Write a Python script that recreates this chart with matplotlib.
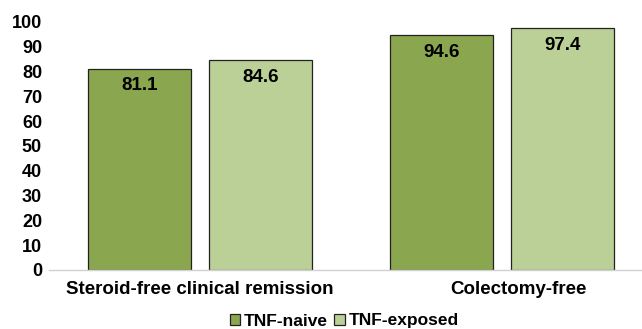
import numpy as np
import matplotlib
matplotlib.use("Agg")
import matplotlib.pyplot as plt
from matplotlib.transforms import ScaledTranslation

plt.rcParams['font.family'] = ['Liberation Sans', 'DejaVu Sans']
plt.rcParams['font.weight'] = 'bold'

categories = ["Steroid-free clinical remission", "Colectomy-free"]
tnf_naive = [81.1, 94.6]
tnf_exposed = [84.6, 97.4]
series_names = ["TNF-naive", "TNF-exposed"]
yticks = list(range(0, 101, 10))

dark_green = "#8aa64e"
light_green = "#bad097"

fig = plt.figure(figsize=(6.42, 3.29), dpi=100)
ax = fig.add_axes([49/642, 1 - 270/329, 1 - 49/642, (270 - 22)/329])

x = np.arange(len(categories))
w = 0.34
b1 = ax.bar(x - 0.2, tnf_naive, w, color=dark_green, edgecolor="#222222", linewidth=0.9, label=series_names[0])
b2 = ax.bar(x + 0.2, tnf_exposed, w, color=light_green, edgecolor="#222222", linewidth=0.9, label=series_names[1])

# value labels sit just inside the top of each bar
for bars in (b1, b2):
    for rect in bars:
        h = rect.get_height()
        ax.annotate(f"{h:.1f}", (rect.get_x() + rect.get_width()/2, h),
                    xytext=(0, -6), textcoords="offset points",
                    ha="center", va="top", fontsize=13.5, fontweight="bold")

ax.set_xlim(-0.5, 1 + (642 - 502) / 302)
ax.set_ylim(0, 100)
ax.set_yticks(yticks)
ax.set_xticks(x)
ax.set_xticklabels(categories, fontsize=13.5, fontweight="bold")
ax.tick_params(axis="y", length=0, labelsize=13, pad=5)
ax.tick_params(axis="x", length=0, pad=8)

# second category label sits a little right of its bar pair
lbl = ax.get_xticklabels()[1]
lbl.set_transform(lbl.get_transform() + ScaledTranslation(0.16, 0, fig.dpi_scale_trans))

for s in ("top", "right", "left"):
    ax.spines[s].set_visible(False)
ax.spines["bottom"].set_color("#d0d0d0")
ax.spines["bottom"].set_linewidth(1.0)

leg = fig.legend(loc="center", bbox_to_anchor=(344/642, 1 - 321/329), ncol=2, frameon=False,
                 handlelength=0.6, handleheight=0.6, handletextpad=0.2,
                 columnspacing=0.4, prop={"weight": "bold", "size": 12.5})

fig.savefig("out.png", dpi=100)
